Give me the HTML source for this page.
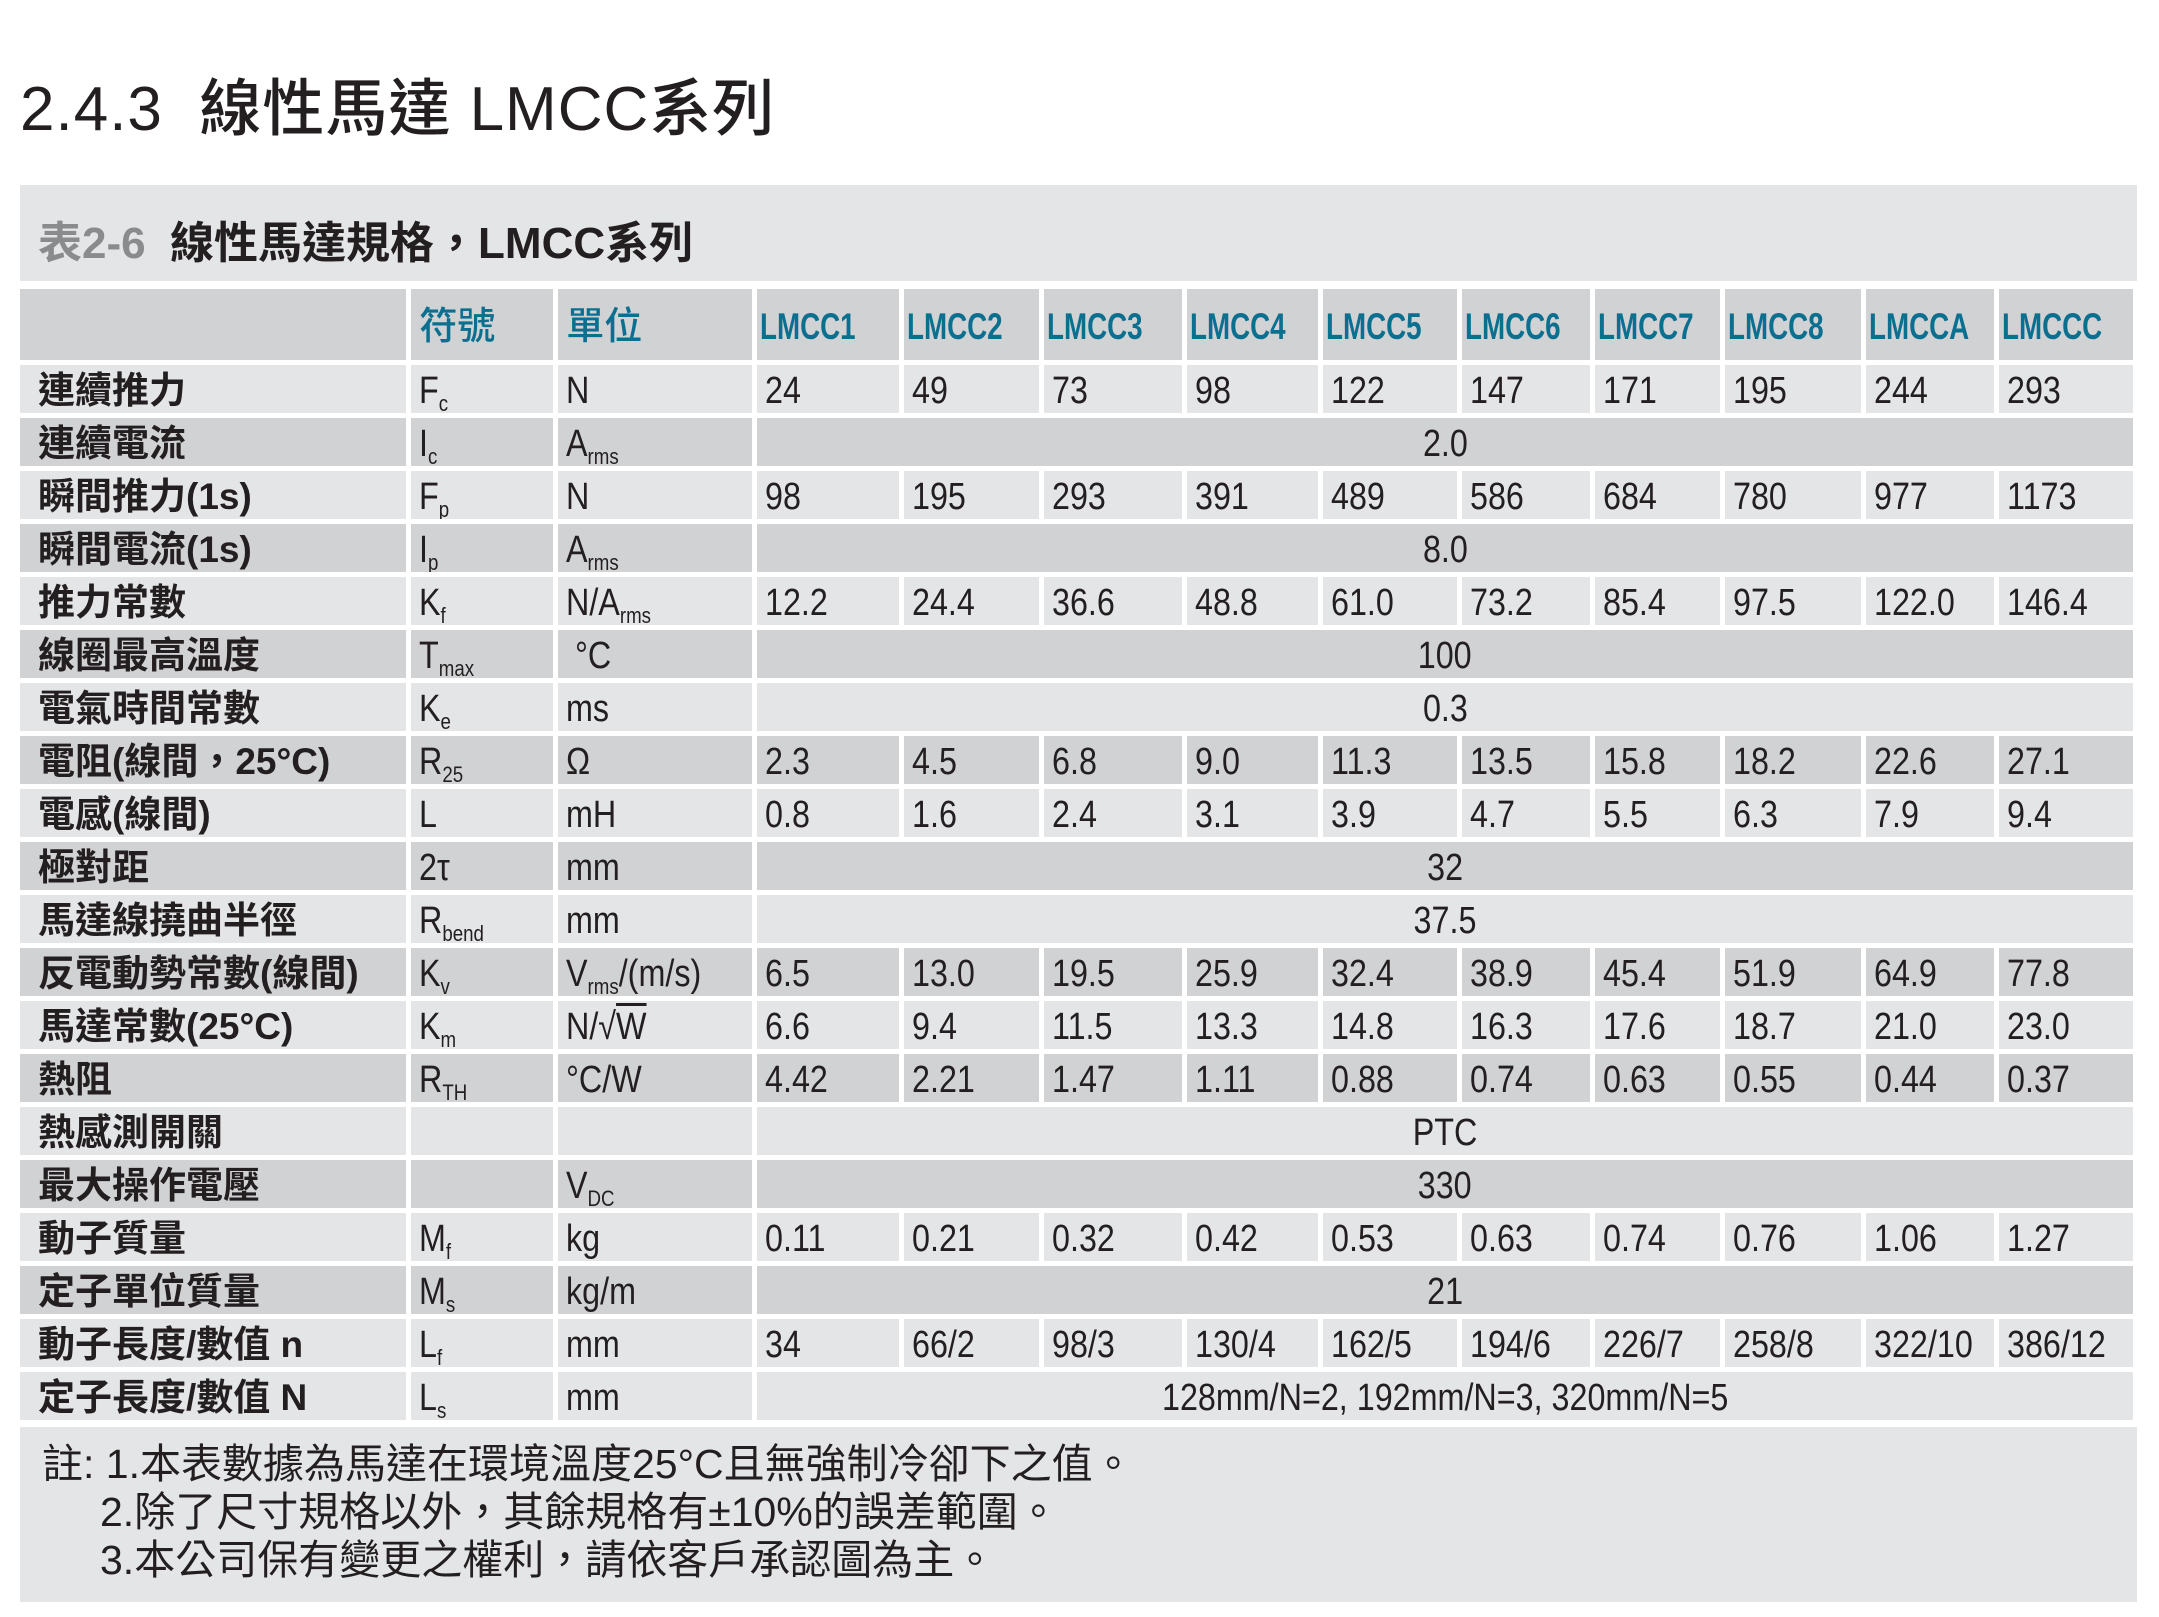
<!DOCTYPE html>
<html><head><meta charset="utf-8">
<style>
body{margin:0;width:2159px;height:1617px;background:#fff;position:relative;overflow:hidden;font-family:"Liberation Sans","Noto Sans CJK TC",sans-serif;color:#231f20}
.h1{position:absolute;left:20px;top:58px;font-size:62px;font-weight:500;letter-spacing:1px;white-space:nowrap}
.band{position:absolute;left:20px;top:185px;width:2117px;height:96px;background:#e4e5e7}
.band .t{position:absolute;left:18px;top:22px;font-size:44px;font-weight:bold;white-space:nowrap}
.gray{color:#8a8b8d}
.notes{position:absolute;left:20px;top:1427px;width:2117px;height:175px;background:#e4e5e7}
.notes div{position:absolute;font-size:41px;white-space:nowrap;transform:scaleX(1.0);transform-origin:0 50%}
table{position:absolute;left:15px;top:284px;border-collapse:separate;border-spacing:5px;table-layout:fixed;width:2123px}
td{padding:4px 0 0 8px;height:44px;line-height:44px;white-space:nowrap;overflow:hidden;font-size:38px;vertical-align:middle}
td span{display:inline-block;transform:scaleX(.85);transform-origin:0 50%}
td.s span{transform-origin:50% 50%}
td.l{font-weight:bold;font-size:37px;padding-left:18px}
tr.L td{background:#e4e5e7}
tr.D td{background:#d1d2d4}
tr.hd td{background:#d1d2d4;height:67px;color:#0b6f8f;font-weight:bold}
tr.hd td.c{font-size:38px;font-weight:500}
tr.hd td.m{font-size:37px;padding-left:3px}
tr.hd td.m span{transform:scaleX(.75)}
td.s{text-align:center;padding-left:0}
sub{font-size:22px;vertical-align:-8px;line-height:0}
</style></head><body>
<div class="h1">2.4.3&nbsp; 線性馬達 LMCC系列</div>
<div class="band"><div class="t"><span class="gray">表2-6</span>&nbsp;&nbsp;線性馬達規格，LMCC系列</div></div>
<table>
<colgroup><col style="width:386px"><col style="width:142px"><col style="width:194px"><col style="width:142px"><col style="width:135px"><col style="width:137px"><col style="width:131px"><col style="width:134px"><col style="width:128px"><col style="width:125px"><col style="width:136px"><col style="width:128px"><col style="width:134px"></colgroup>
<tr class="hd"><td></td><td class="c">符號</td><td class="c">單位</td><td class="m"><span>LMCC1</span></td><td class="m"><span>LMCC2</span></td><td class="m"><span>LMCC3</span></td><td class="m"><span>LMCC4</span></td><td class="m"><span>LMCC5</span></td><td class="m"><span>LMCC6</span></td><td class="m"><span>LMCC7</span></td><td class="m"><span>LMCC8</span></td><td class="m"><span>LMCCA</span></td><td class="m"><span>LMCCC</span></td></tr>
<tr class="L"><td class="l">連續推力</td><td><span>F<sub>c</sub></span></td><td><span>N</span></td><td><span>24</span></td><td><span>49</span></td><td><span>73</span></td><td><span>98</span></td><td><span>122</span></td><td><span>147</span></td><td><span>171</span></td><td><span>195</span></td><td><span>244</span></td><td><span>293</span></td></tr>
<tr class="D"><td class="l">連續電流</td><td><span>I<sub>c</sub></span></td><td><span>A<sub>rms</sub></span></td><td class="s" colspan="10"><span>2.0</span></td></tr>
<tr class="L"><td class="l">瞬間推力(1s)</td><td><span>F<sub>p</sub></span></td><td><span>N</span></td><td><span>98</span></td><td><span>195</span></td><td><span>293</span></td><td><span>391</span></td><td><span>489</span></td><td><span>586</span></td><td><span>684</span></td><td><span>780</span></td><td><span>977</span></td><td><span>1173</span></td></tr>
<tr class="D"><td class="l">瞬間電流(1s)</td><td><span>I<sub>p</sub></span></td><td><span>A<sub>rms</sub></span></td><td class="s" colspan="10"><span>8.0</span></td></tr>
<tr class="L"><td class="l">推力常數</td><td><span>K<sub>f</sub></span></td><td><span>N/A<sub>rms</sub></span></td><td><span>12.2</span></td><td><span>24.4</span></td><td><span>36.6</span></td><td><span>48.8</span></td><td><span>61.0</span></td><td><span>73.2</span></td><td><span>85.4</span></td><td><span>97.5</span></td><td><span>122.0</span></td><td><span>146.4</span></td></tr>
<tr class="D"><td class="l">線圈最高溫度</td><td><span>T<sub>max</sub></span></td><td><span>&nbsp;°C</span></td><td class="s" colspan="10"><span>100</span></td></tr>
<tr class="L"><td class="l">電氣時間常數</td><td><span>K<sub>e</sub></span></td><td><span>ms</span></td><td class="s" colspan="10"><span>0.3</span></td></tr>
<tr class="D"><td class="l">電阻(線間，25°C)</td><td><span>R<sub>25</sub></span></td><td><span>Ω</span></td><td><span>2.3</span></td><td><span>4.5</span></td><td><span>6.8</span></td><td><span>9.0</span></td><td><span>11.3</span></td><td><span>13.5</span></td><td><span>15.8</span></td><td><span>18.2</span></td><td><span>22.6</span></td><td><span>27.1</span></td></tr>
<tr class="L"><td class="l">電感(線間)</td><td><span>L</span></td><td><span>mH</span></td><td><span>0.8</span></td><td><span>1.6</span></td><td><span>2.4</span></td><td><span>3.1</span></td><td><span>3.9</span></td><td><span>4.7</span></td><td><span>5.5</span></td><td><span>6.3</span></td><td><span>7.9</span></td><td><span>9.4</span></td></tr>
<tr class="D"><td class="l">極對距</td><td><span>2τ</span></td><td><span>mm</span></td><td class="s" colspan="10"><span>32</span></td></tr>
<tr class="L"><td class="l">馬達線撓曲半徑</td><td><span>R<sub>bend</sub></span></td><td><span>mm</span></td><td class="s" colspan="10"><span>37.5</span></td></tr>
<tr class="D"><td class="l">反電動勢常數(線間)</td><td><span>K<sub>v</sub></span></td><td><span>V<sub>rms</sub>/(m/s)</span></td><td><span>6.5</span></td><td><span>13.0</span></td><td><span>19.5</span></td><td><span>25.9</span></td><td><span>32.4</span></td><td><span>38.9</span></td><td><span>45.4</span></td><td><span>51.9</span></td><td><span>64.9</span></td><td><span>77.8</span></td></tr>
<tr class="L"><td class="l">馬達常數(25°C)</td><td><span>K<sub>m</sub></span></td><td><span>N/√<span style="text-decoration:overline;transform:none">W</span></span></td><td><span>6.6</span></td><td><span>9.4</span></td><td><span>11.5</span></td><td><span>13.3</span></td><td><span>14.8</span></td><td><span>16.3</span></td><td><span>17.6</span></td><td><span>18.7</span></td><td><span>21.0</span></td><td><span>23.0</span></td></tr>
<tr class="D"><td class="l">熱阻</td><td><span>R<sub>TH</sub></span></td><td><span>°C/W</span></td><td><span>4.42</span></td><td><span>2.21</span></td><td><span>1.47</span></td><td><span>1.11</span></td><td><span>0.88</span></td><td><span>0.74</span></td><td><span>0.63</span></td><td><span>0.55</span></td><td><span>0.44</span></td><td><span>0.37</span></td></tr>
<tr class="L"><td class="l">熱感測開關</td><td></td><td></td><td class="s" colspan="10"><span>PTC</span></td></tr>
<tr class="D"><td class="l">最大操作電壓</td><td></td><td><span>V<sub>DC</sub></span></td><td class="s" colspan="10"><span>330</span></td></tr>
<tr class="L"><td class="l">動子質量</td><td><span>M<sub>f</sub></span></td><td><span>kg</span></td><td><span>0.11</span></td><td><span>0.21</span></td><td><span>0.32</span></td><td><span>0.42</span></td><td><span>0.53</span></td><td><span>0.63</span></td><td><span>0.74</span></td><td><span>0.76</span></td><td><span>1.06</span></td><td><span>1.27</span></td></tr>
<tr class="D"><td class="l">定子單位質量</td><td><span>M<sub>s</sub></span></td><td><span>kg/m</span></td><td class="s" colspan="10"><span>21</span></td></tr>
<tr class="L"><td class="l">動子長度/數值 n</td><td><span>L<sub>f</sub></span></td><td><span>mm</span></td><td><span>34</span></td><td><span>66/2</span></td><td><span>98/3</span></td><td><span>130/4</span></td><td><span>162/5</span></td><td><span>194/6</span></td><td><span>226/7</span></td><td><span>258/8</span></td><td><span>322/10</span></td><td><span>386/12</span></td></tr>
<tr class="L"><td class="l">定子長度/數值 N</td><td><span>L<sub>s</sub></span></td><td><span>mm</span></td><td class="s" colspan="10"><span>128mm/N=2, 192mm/N=3, 320mm/N=5</span></td></tr>
</table>
<div class="notes">
<div style="left:22px;top:3px">註: 1.本表數據為馬達在環境溫度25°C且無強制冷卻下之值。</div>
<div style="left:80px;top:51px">2.除了尺寸規格以外，其餘規格有±10%的誤差範圍。</div>
<div style="left:80px;top:99px">3.本公司保有變更之權利，請依客戶承認圖為主。</div>
</div>
</body></html>
